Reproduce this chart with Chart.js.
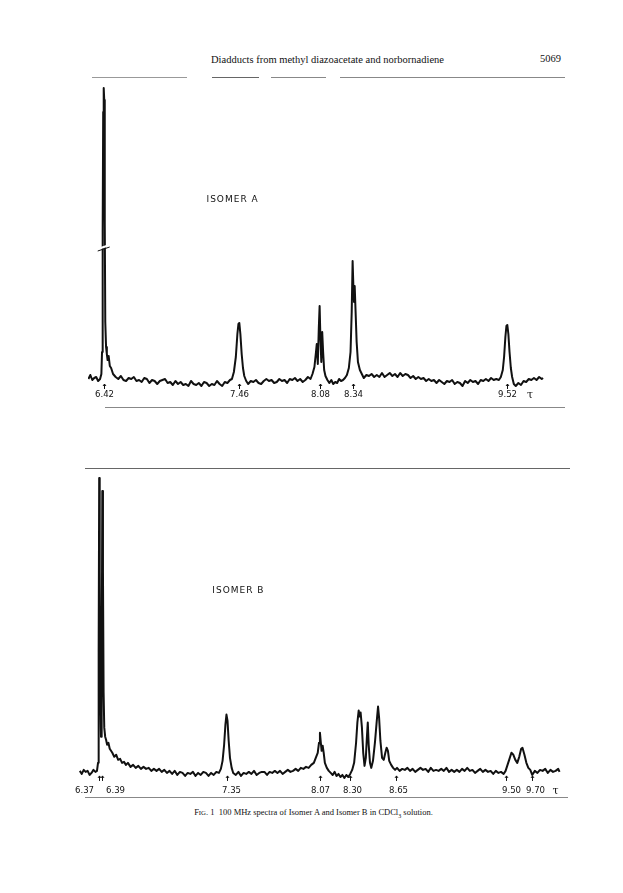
<!DOCTYPE html>
<html>
<head>
<meta charset="utf-8">
<script src="https://cdn.jsdelivr.net/npm/chart.js@4.4.1/dist/chart.umd.min.js"></script>
<style>
  body { margin: 0; background: #fff; }
  #page { position: relative; width: 623px; height: 893px; overflow: hidden; background: #fff; }
  .rule { position: absolute; height: 1px; background: #7a7a7a; }
  .txt { position: absolute; font-family: "Liberation Serif", "DejaVu Serif", serif; color: #111; white-space: nowrap; }
  canvas { position: absolute; left: 0; }
</style>
</head>
<body>
<div id="page">
  <div class="txt" style="left:0;width:655px;text-align:center;top:54px;font-size:10.5px;">Diadducts from methyl diazoacetate and norbornadiene</div>
  <div class="txt" style="left:540px;top:53px;font-size:10.5px;">5069</div>

  <!-- rules around spectrum A -->
  <div class="rule" style="left:92px;top:77px;width:95px;background:#999;"></div>
  <div class="rule" style="left:212px;top:77px;width:47px;background:#666;"></div>
  <div class="rule" style="left:271px;top:77px;width:55px;background:#888;"></div>
  <div class="rule" style="left:340px;top:77px;width:225px;background:#888;"></div>
  <div class="rule" style="left:105px;top:407px;width:460px;background:#888;"></div>

  <!-- rules around spectrum B -->
  <div class="rule" style="left:85px;top:468px;width:485px;background:#666;"></div>
  <div class="rule" style="left:85px;top:797px;width:483px;background:#888;"></div>

  <canvas id="chartA" width="623" height="350" style="top:70px;"></canvas>
  <canvas id="chartB" width="623" height="350" style="top:455px;"></canvas>

  <div class="txt" style="left:0;width:627px;text-align:center;top:807px;font-size:8.5px;">F<span style="font-size:6.8px">IG</span>. 1&nbsp; 100 MHz spectra of Isomer A and Isomer B in CDCl<sub style="font-size:6px">3</sub> solution.</div>
</div>

<script>
// Spectrum A: chemical shift (tau) and signal height above baseline
const tauA = [
  6.300, 6.315, 6.330, 6.345, 6.360, 6.375, 6.390,
  6.400, 6.405, 6.410, 6.414, 6.418, 6.422, 6.426, 6.430, 6.436, 6.442, 6.448, 6.456, 6.465, 6.475, 6.490,
  6.51, 6.53, 6.55, 6.57, 6.59, 6.61, 6.63, 6.65, 6.67, 6.69, 6.71, 6.73, 6.75, 6.77, 6.79, 6.81,
  6.83, 6.85, 6.87, 6.89, 6.91, 6.93, 6.95, 6.97, 6.99, 7.01, 7.03, 7.05, 7.07, 7.09, 7.11, 7.13,
  7.15, 7.17, 7.19, 7.21, 7.23, 7.25, 7.27, 7.29, 7.31, 7.33, 7.35, 7.37, 7.39, 7.405,
  7.420, 7.435, 7.447, 7.455, 7.462, 7.470, 7.480, 7.490, 7.500, 7.515,
  7.53, 7.55, 7.57, 7.59, 7.61, 7.63, 7.65, 7.67, 7.69, 7.71, 7.73, 7.75, 7.77, 7.79, 7.81, 7.83,
  7.85, 7.87, 7.89, 7.91, 7.93, 7.95, 7.97, 7.99, 8.01,
  8.025, 8.040, 8.052, 8.058, 8.066, 8.074, 8.080, 8.086, 8.093, 8.100, 8.107, 8.115, 8.125, 8.140,
  8.155, 8.170, 8.185, 8.200, 8.215, 8.230, 8.245, 8.260, 8.275, 8.290,
  8.305, 8.318, 8.327, 8.334, 8.340, 8.345, 8.350, 8.357, 8.365, 8.375, 8.390, 8.405,
  8.42, 8.44, 8.46, 8.48, 8.50, 8.52, 8.54, 8.56, 8.58, 8.60, 8.62, 8.64, 8.66, 8.68, 8.70, 8.72,
  8.74, 8.76, 8.78, 8.80, 8.82, 8.84, 8.86, 8.88, 8.90, 8.92, 8.94, 8.96, 8.98, 9.00,
  9.02, 9.04, 9.06, 9.08, 9.10, 9.12, 9.14, 9.16, 9.18, 9.20, 9.22, 9.24, 9.26, 9.28, 9.30, 9.32,
  9.34, 9.36, 9.38, 9.40, 9.42, 9.44, 9.46, 9.475,
  9.490, 9.500, 9.510, 9.518, 9.525, 9.533, 9.542, 9.552, 9.562, 9.575,
  9.59, 9.61, 9.63, 9.65, 9.67, 9.69, 9.71, 9.73, 9.75, 9.77, 9.79, 9.80
];
const intA = [
  3, 7, 2, 4, 5, 1, 3,
  8, 30, 150, 270, 294, 282, 160, 60, 35, 28, 22, 26, 16, 14, 8,
  5, 3, 6, 2, 1, 4, 3, 5, 1, 2, 0, 4, 3, -1, 2, 1,
  -2, 1, 2, 3, -1, 0, -3, 1, -2, 0, -3, -2, -4, 1, -2, -3,
  -1, -4, 0, -1, -4, -2, -3, 1, -2, -4, 0, -1, 2, 3,
  10, 25, 48, 58, 59, 48, 28, 14, 6, 1,
  -2, 1, 0, 2, -1, -2, 1, 3, 1, 2, -1, 0, 3, 1, 2, -1,
  3, 2, 4, 1, 3, 0, 2, 5, 3,
  8, 15, 30, 38, 18, 55, 76, 45, 20, 50, 30, 12, 6, 2,
  -1, 2, -2, 0, -1, 3, 1, 2, 4, 7,
  14, 30, 70, 121, 95, 80, 96, 70, 40, 20, 12, 8,
  4, 7, 6, 8, 5, 7, 5, 9, 5, 7, 9, 6, 8, 5, 9, 6,
  8, 7, 4, 6, 3, 5, 3, 4, 1, 3, 1, 2, -1, 2,
  0, -2, 1, 0, 2, -2, 0, -1, -4, 1, -1, 2, 0, 1, -2, 2,
  1, 3, 1, 4, 2, 3, 2, 5,
  12, 25, 45, 56, 57, 48, 30, 14, 5, -2,
  -4, -1, -3, 1, 0, 3, 2, 4, 2, 5, 3, 4
];
const labelsA = [6.42, 7.46, 8.08, 8.34, 9.52];

// Spectrum B
const tauB = [
  6.220, 6.235, 6.250, 6.265, 6.280, 6.295, 6.310, 6.325, 6.340, 6.352,
  6.360, 6.365, 6.369, 6.373, 6.378, 6.383, 6.388, 6.393, 6.398, 6.403, 6.408, 6.415, 6.422,
  6.430, 6.440, 6.450, 6.460, 6.470, 6.485, 6.500, 6.515, 6.530, 6.545, 6.560, 6.575, 6.590,
  6.61, 6.63, 6.65, 6.67, 6.69, 6.71, 6.73, 6.75, 6.77, 6.79, 6.81, 6.83, 6.85, 6.87, 6.89, 6.91,
  6.93, 6.95, 6.97, 6.99, 7.01, 7.03, 7.05, 7.07, 7.09, 7.11, 7.13, 7.15, 7.17, 7.19, 7.21, 7.23,
  7.25, 7.27, 7.29, 7.305,
  7.318, 7.330, 7.340, 7.348, 7.356, 7.365, 7.375, 7.388, 7.400,
  7.42, 7.44, 7.46, 7.48, 7.50, 7.52, 7.54, 7.56, 7.58, 7.60, 7.62, 7.64, 7.66, 7.68, 7.70, 7.72,
  7.74, 7.76, 7.78, 7.80, 7.82, 7.84, 7.86, 7.88, 7.90, 7.92, 7.94, 7.96, 7.98, 8.00,
  8.020, 8.035, 8.050, 8.060, 8.067, 8.074, 8.080, 8.088, 8.096, 8.105, 8.120, 8.135,
  8.150, 8.165, 8.180, 8.195, 8.210, 8.225, 8.240, 8.255, 8.270, 8.285, 8.300,
  8.315, 8.330, 8.345, 8.355, 8.365, 8.372, 8.380, 8.390, 8.400, 8.410, 8.420, 8.428, 8.435,
  8.442, 8.452, 8.462, 8.475, 8.490, 8.503, 8.514, 8.522, 8.532, 8.545, 8.558, 8.570, 8.580,
  8.590, 8.600, 8.615, 8.630, 8.645,
  8.66, 8.68, 8.70, 8.72, 8.74, 8.76, 8.78, 8.80, 8.82, 8.84, 8.86, 8.88, 8.90, 8.92, 8.94, 8.96,
  8.98, 9.00, 9.02, 9.04, 9.06, 9.08, 9.10, 9.12, 9.14, 9.16, 9.18, 9.20, 9.22, 9.24, 9.26, 9.28,
  9.30, 9.32, 9.34, 9.36, 9.38, 9.40, 9.42, 9.44, 9.46, 9.48, 9.495,
  9.510, 9.525, 9.540, 9.555, 9.570, 9.585, 9.600, 9.615, 9.625, 9.640, 9.655, 9.670, 9.685, 9.700,
  9.72, 9.74, 9.76, 9.78, 9.80, 9.82, 9.84, 9.86, 9.88, 9.90, 9.91
];
const intB = [
  2, -1, 3, 1, 2, -2, 0, 3, 1, 2,
  10, 120, 293, 200, 80, 36, 90, 280, 200, 80, 45, 36, 33,
  28, 30, 24, 22, 20, 16, 18, 13, 14, 10, 11, 8, 10,
  6, 8, 5, 7, 4, 6, 4, 5, 2, 4, 2, 4, 1, 3, 0, 2,
  -1, 2, -2, 1, 0, -3, 0, -1, 1, -3, 0, -2, 1, 0, -3, 0,
  -2, 1, 0, 4,
  12, 28, 48, 58, 52, 32, 15, 5, 0,
  -2, 1, -3, 0, -1, 1, -1, 2, -2, 0, 1, 1, -2, 1, 0, 2,
  0, 2, -1, 1, 3, 1, 2, 4, 2, 5, 4, 6, 5, 8,
  10, 15, 20, 30, 40, 30, 22, 27, 20, 10, 5, 2,
  0, -2, 1, -3, -1, -4, -2, -5, -2, -4, -1,
  3, 10, 30, 50, 62, 56, 60, 45, 20, 7, 15, 35, 50,
  28, 10, 5, 12, 30, 50, 66, 55, 32, 15, 13, 20, 25,
  22, 12, 8, 5, 3,
  5, 2, 4, 3, 5, 2, 4, 1, 3, 5, 3, 4, 1, 5, 2, 3,
  2, 4, 2, 5, 1, 3, 1, 3, 1, 4, 2, 5, 2, 3, 0, 2,
  4, 1, 3, 1, 2, -1, 2, 0, 1, -1, 2,
  8, 14, 20, 18, 13, 10, 16, 24, 25, 18, 10, 5, 3, -2,
  2, 0, 3, 2, 4, 0, 3, 1, 2, 4, 1
];
const labelsB = [6.37, 6.39, 7.35, 8.07, 8.30, 8.65, 9.50, 9.70];
// small sideways nudges so crowded labels stay readable (pixels)
const labelShiftB = [-15, 13, 4, 0, 2, 2, 5, 3];

const tickFont = '9.5px "DejaVu Sans Condensed", "DejaVu Sans", sans-serif';

const marksPlugin = {
  id: 'marks',
  afterDatasetsDraw(chart, args, opts) {
    const ctx = chart.ctx;
    const xs = chart.scales.x, ys = chart.scales.y;
    const y0 = ys.getPixelForValue(0);
    ctx.save();
    ctx.strokeStyle = '#111';
    ctx.fillStyle = '#111';
    ctx.lineWidth = 1;
    // little arrows and shift labels
    opts.labels.forEach((v, i) => {
      const x = Math.round(xs.getPixelForValue(v)) + 0.5;
      ctx.beginPath();
      ctx.moveTo(x, y0 + opts.arrowTop);
      ctx.lineTo(x, y0 + opts.arrowTop + 5);
      ctx.stroke();
      ctx.beginPath();
      ctx.moveTo(x - 1.5, y0 + opts.arrowTop + 2);
      ctx.lineTo(x, y0 + opts.arrowTop);
      ctx.lineTo(x + 1.5, y0 + opts.arrowTop + 2);
      ctx.stroke();
      ctx.font = tickFont;
      ctx.textAlign = 'center';
      ctx.textBaseline = 'middle';
      const shift = opts.shifts ? opts.shifts[i] : 0;
      ctx.fillText(v.toFixed(2), x + shift, y0 + opts.labelOffset);
    });
    // tau unit
    ctx.font = '11px "DejaVu Serif", serif';
    ctx.textAlign = 'center';
    ctx.textBaseline = 'middle';
    ctx.fillText('τ', xs.getPixelForValue(opts.tauAt), y0 + opts.labelOffset);
    // title
    ctx.font = '9px "DejaVu Sans", sans-serif';
    ctx.letterSpacing = '1px';
    ctx.fillText(opts.title, xs.getPixelForValue(opts.titleAt[0]), ys.getPixelForValue(opts.titleAt[1]));
    // scale break on the tall peak
    if (opts.breakAt) {
      const bx = xs.getPixelForValue(opts.breakAt[0]);
      const by = ys.getPixelForValue(opts.breakAt[1]);
      ctx.strokeStyle = '#fff';
      ctx.lineWidth = 2;
      ctx.beginPath();
      ctx.moveTo(bx - 6, by + 1);
      ctx.lineTo(bx + 6, by - 3);
      ctx.stroke();
      ctx.strokeStyle = '#111';
      ctx.lineWidth = 1;
      ctx.beginPath();
      ctx.moveTo(bx - 6, by + 3);
      ctx.lineTo(bx + 6, by - 1);
      ctx.stroke();
    }
    ctx.restore();
  }
};

function makeSpectrum(id, taus, ints, xMin, xMax, pad, markOpts) {
  return new Chart(document.getElementById(id), {
    type: 'line',
    data: {
      datasets: [{
        data: taus.map((t, i) => ({ x: t, y: ints[i] })),
        borderColor: '#111',
        borderWidth: 2,
        borderJoinStyle: 'round',
        pointRadius: 0,
        tension: 0,
        fill: false
      }]
    },
    options: {
      responsive: false,
      animation: false,
      devicePixelRatio: 1,
      layout: { padding: pad },
      scales: {
        x: { type: 'linear', min: xMin, max: xMax, display: false },
        y: { min: -12, max: 296, display: false }
      },
      plugins: {
        legend: { display: false },
        tooltip: { enabled: false },
        marks: markOpts
      }
    },
    plugins: [marksPlugin]
  });
}

makeSpectrum('chartA', tauA, intA, 6.297, 9.815,
  { left: 88, right: 78, top: 16, bottom: 26 },
  { labels: labelsA, arrowTop: 2, labelOffset: 13, tauAt: 9.70,
    title: 'ISOMER A', titleAt: [7.41, 182], breakAt: [6.418, 134] });

makeSpectrum('chartB', tauB, intB, 6.206, 9.929,
  { left: 78, right: 61, top: 20, bottom: 20 },
  { labels: labelsB, shifts: labelShiftB, arrowTop: 3, labelOffset: 18, tauAt: 9.88,
    title: 'ISOMER B', titleAt: [7.44, 181] });
</script>
</body>
</html>
